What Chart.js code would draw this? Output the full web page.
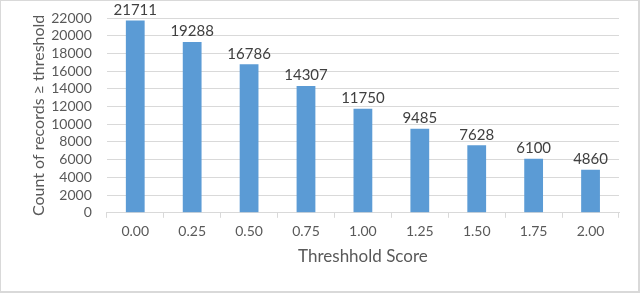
<!DOCTYPE html>
<html>
<head>
<meta charset="utf-8">
<script src="https://cdn.jsdelivr.net/npm/chart.js@4/dist/chart.umd.min.js"></script>
<style>
  html, body { margin: 0; padding: 0; background: #fff; }
  #wrap { width: 640px; height: 293px; box-sizing: border-box; border: 1px solid #d9d9d9; border-width: 1px 2px 2px 1px; position: relative; }
</style>
</head>
<body>
<div id="wrap"><canvas id="chart"></canvas></div>
<script>
const categories = ['0.00', '0.25', '0.50', '0.75', '1.00', '1.25', '1.50', '1.75', '2.00'];
const counts = [21711, 19288, 16786, 14307, 11750, 9485, 7628, 6100, 4860];
const yTicks = [0, 2000, 4000, 6000, 8000, 10000, 12000, 14000, 16000, 18000, 20000, 22000];

const FONT = 'Lato, "Open Sans", sans-serif';

// value labels above each bar
const barLabels = {
  id: 'barLabels',
  afterDatasetsDraw(chart) {
    const c = chart.ctx;
    const meta = chart.getDatasetMeta(0);
    c.save();
    c.font = '15px ' + FONT;
    c.fillStyle = '#404040';
    c.textAlign = 'center';
    c.textBaseline = 'bottom';
    meta.data.forEach((bar, i) => {
      c.fillText(String(counts[i]), bar.x, bar.y - 3);
    });
    c.restore();
  }
};

new Chart(document.getElementById('chart'), {
  type: 'bar',
  data: {
    labels: categories,
    datasets: [{
      data: counts,
      backgroundColor: '#5b9bd5',
      categoryPercentage: 1.0,
      barPercentage: 0.33
    }]
  },
  options: {
    responsive: true,
    maintainAspectRatio: false,
    animation: false,
    layout: { padding: { left: 24, right: 19, top: 17, bottom: 20 } },
    plugins: {
      legend: { display: false },
      tooltip: { enabled: false }
    },
    scales: {
      x: {
        grid: { offset: true, drawOnChartArea: false, color: '#d9d9d9', tickLength: 5 },
        border: { color: '#d9d9d9' },
        ticks: { color: '#595959', font: { family: FONT, size: 14 }, padding: 5 },
        title: { display: true, text: 'Threshhold Score', color: '#595959', font: { family: FONT, size: 17 }, padding: { top: 2 } }
      },
      y: {
        min: 0,
        max: yTicks[yTicks.length - 1],
        afterBuildTicks(axis) { axis.ticks = yTicks.map(v => ({ value: v })); },
        grid: { color: '#d9d9d9', drawTicks: true, tickLength: 12, tickColor: 'rgba(0,0,0,0)' },
        border: { display: false },
        ticks: { color: '#595959', font: { family: FONT, size: 14 }, padding: 3, autoSkip: false, callback: v => String(v) },
        title: { display: true, text: 'Count of records ≥ threshold', color: '#595959', font: { family: FONT, size: 16 }, padding: { bottom: 0 } }
      }
    }
  },
  plugins: [barLabels]
});
</script>
</body>
</html>
